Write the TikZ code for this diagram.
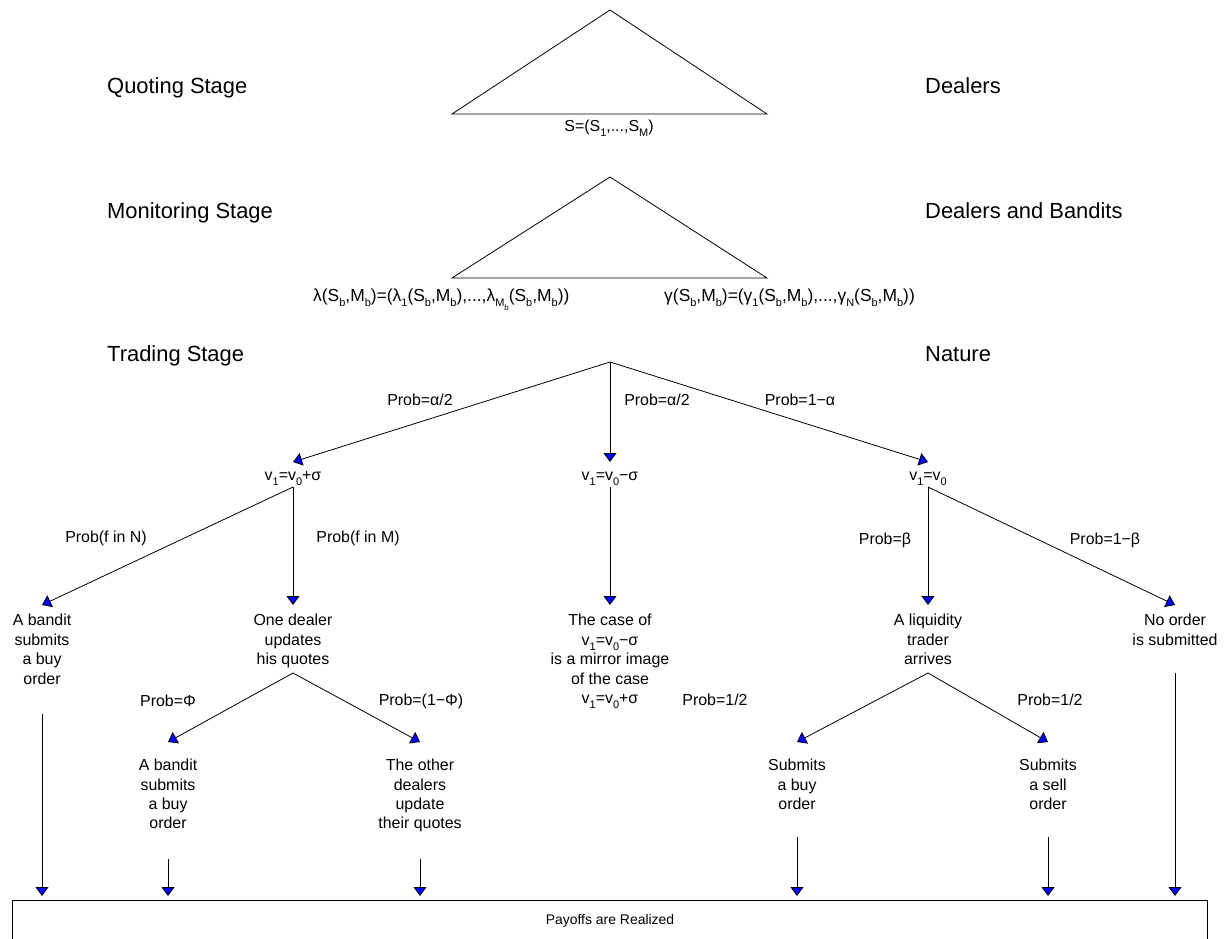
\documentclass[tikz,border=0pt]{standalone}
\usepackage{fontspec}
\setmainfont{Liberation Sans}
\usetikzlibrary{arrows.meta}
\newcommand{\lowsub}[1]{\raisebox{-5bp}{\fontsize{11}{11}\selectfont #1}}
\newcommand{\lowsubsub}[1]{\raisebox{-4bp}{\fontsize{8}{8}\selectfont #1}}
\tikzset{stage/.style = {anchor=base west, inner sep=0, font=\fontsize{22}{26}\selectfont}}
\tikzset{lbl/.style = {inner sep=0, align=center, font=\fontsize{16}{19.5}\selectfont}}
\tikzset{move/.style = {-{Triangle[length=9bp,width=13bp,fill=blue]}, line width=0.8bp}}
\tikzset{edge/.style = {line width=0.8bp}}

\begin{document}
\begin{tikzpicture}[x=1bp,y=-1bp]
    \useasboundingbox (0,0) rectangle (1229,939);
    \clip (0,0) rectangle (1229,939);
    % stages and players
    \node[stage] (qs) at (107,93) {Quoting Stage};
    \node[stage] (qp) at (925,93) {Dealers};
    \node[stage] (ms) at (107,218) {Monitoring Stage};
    \node[stage] (mp) at (925,218) {Dealers and Bandits};
    \node[stage] (ts) at (107,361) {Trading Stage};
    \node[stage] (tp) at (925,361) {Nature};
    % quoting
    \coordinate (qa) at (610,10);
    \coordinate (qb) at (452,114);
    \coordinate (qc) at (767,114);
    \draw[edge] (qa) -- (qb) -- (qc) -- cycle;
    \node[lbl, anchor=base] (quotes) at (609,131) {S=(S\lowsub{1},...,S\lowsub{M})};
    % monitoring
    \coordinate (ma) at (610,177);
    \coordinate (mb) at (452,278);
    \coordinate (mc) at (767,278);
    \draw[edge] (ma) -- (mb) -- (mc) -- cycle;
    \node[lbl, anchor=base west, font=\fontsize{17.5}{20}\selectfont] (lam) at (313,301)
        {λ(S\lowsub{b},M\lowsub{b})=(λ\lowsub{1}(S\lowsub{b},M\lowsub{b}),...,λ\lowsub{M\lowsubsub{b}}(S\lowsub{b},M\lowsub{b}))};
    \node[lbl, anchor=base east, font=\fontsize{17.5}{20}\selectfont] (gam) at (915,301)
        {γ(S\lowsub{b},M\lowsub{b})=(γ\lowsub{1}(S\lowsub{b},M\lowsub{b}),...,γ\lowsub{N}(S\lowsub{b},M\lowsub{b}))};
    % trading: nature moves
    \coordinate (root) at (610,362);
    \coordinate (up) at (293,462);
    \coordinate (down) at (610,462);
    \coordinate (same) at (928,462);
    \draw[move] (root) -- (up);
    \draw[move] (root) -- (down);
    \draw[move] (root) -- (same);
    \node[lbl] (pup) at (420,400) {Prob=α/2};
    \node[lbl] (pdown) at (657,400) {Prob=α/2};
    \node[lbl] (psame) at (800,400) {Prob=1−α};
    \node[lbl, anchor=base] (vup) at (293,480) {v\lowsub{1}=v\lowsub{0}+σ};
    \node[lbl, anchor=base] (vdown) at (610,480) {v\lowsub{1}=v\lowsub{0}−σ};
    \node[lbl, anchor=base] (vsame) at (928,480) {v\lowsub{1}=v\lowsub{0}};
    % v1 = v0 + sigma
    \coordinate (fup) at (293,487);
    \coordinate (bandA) at (42,605);
    \coordinate (dealer) at (293,605);
    \draw[move] (fup) -- (bandA);
    \draw[move] (fup) -- (dealer);
    \node[lbl] (pN) at (106,538) {Prob(f in N)};
    \node[lbl] (pM) at (358,538) {Prob(f in M)};
    \node[lbl, anchor=north] (tbandA) at ([yshift=-9]bandA) {A bandit\\submits\\a buy\\order};
    \node[lbl, anchor=north] (tdealer) at ([yshift=-9]dealer) {One dealer\\updates\\his quotes};
    \coordinate (fdealer) at (293,673);
    \coordinate (bandB) at (168,742);
    \coordinate (other) at (420,742);
    \draw[move] (fdealer) -- (bandB);
    \draw[move] (fdealer) -- (other);
    \node[lbl] (pPhi) at (168,701) {Prob=Φ};
    \node[lbl] (pnPhi) at (421,701) {Prob=(1−Φ)};
    \node[lbl, anchor=north] (tbandB) at ([yshift=-17]bandB) {A bandit\\submits\\a buy\\order};
    \node[lbl, anchor=north] (tother) at ([yshift=-17]other) {The other\\dealers\\update\\their quotes};
    % v1 = v0 - sigma
    \coordinate (fdown) at (610,487);
    \coordinate (mirror) at (610,605);
    \draw[move] (fdown) -- (mirror);
    \node[lbl, anchor=north] (tmirror) at ([yshift=-9]mirror)
        {The case of\\v\lowsub{1}=v\lowsub{0}−σ\\is a mirror image\\of the case\\v\lowsub{1}=v\lowsub{0}+σ};
    % v1 = v0
    \coordinate (fsame) at (928,487);
    \coordinate (liq) at (928,605);
    \coordinate (none) at (1175,605);
    \draw[move] (fsame) -- (liq);
    \draw[move] (fsame) -- (none);
    \node[lbl] (pbeta) at (885,540) {Prob=β};
    \node[lbl] (pnbeta) at (1105,540) {Prob=1−β};
    \node[lbl, anchor=north] (tliq) at ([yshift=-9]liq) {A liquidity\\trader\\arrives};
    \node[lbl, anchor=north] (tnone) at ([yshift=-9]none) {No order\\is submitted};
    \coordinate (fliq) at (928,673);
    \coordinate (buy) at (797,742);
    \coordinate (sell) at (1048,742);
    \draw[move] (fliq) -- (buy);
    \draw[move] (fliq) -- (sell);
    \node[lbl] (pbuy) at (715,700) {Prob=1/2};
    \node[lbl] (psell) at (1050,700) {Prob=1/2};
    \node[lbl, anchor=north] (tbuy) at ([yshift=-17]buy) {Submits\\a buy\\order};
    \node[lbl, anchor=north] (tsell) at ([yshift=-17]sell) {Submits\\a sell\\order};
    % payoffs
    \coordinate (boxa) at (12,900);
    \coordinate (boxb) at (1207,960);
    \coordinate (pay) at (0,896);
    \draw[edge] (boxa) rectangle (boxb);
    \node[lbl, font=\fontsize{14}{17}\selectfont] (payoff) at (610,921) {Payoffs are Realized};
    \coordinate (sA) at (42,714);
    \coordinate (sB) at (168,859);
    \coordinate (sO) at (420,859);
    \coordinate (sBuy) at (797,837);
    \coordinate (sSell) at (1048,837);
    \coordinate (sNone) at (1175,673);
    \foreach \s in {sA, sB, sO, sBuy, sSell, sNone} {
        \draw[move] (\s) -- (\s |- pay); % into the payoff box
    }
\end{tikzpicture}
\end{document}
